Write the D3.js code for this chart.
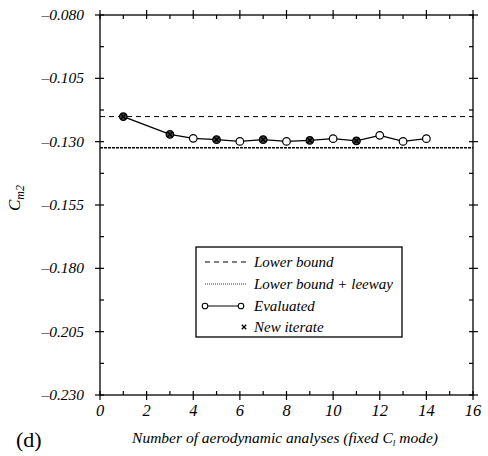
<!DOCTYPE html>
<html>
<head>
<meta charset="utf-8">
<script src="https://cdn.jsdelivr.net/npm/d3@7"></script>
<style>
  body { margin: 0; background: #fff; }
</style>
</head>
<body>
<svg id="chart" width="488" height="456"></svg>
<script>
// data
const analyses = [1, 3, 4, 5, 6, 7, 8, 9, 10, 11, 12, 13, 14];
const cm2 = [-0.1201, -0.1271, -0.1287, -0.1292, -0.1299, -0.1292, -0.1299, -0.1295, -0.1288, -0.1297, -0.1275, -0.1299, -0.1288];
const newIterate = [1, 3, 5, 7, 9, 11];
const lowerBound = -0.1201;
const lowerLeeway = -0.1324;
const yTicks = [-0.080, -0.105, -0.130, -0.155, -0.180, -0.205, -0.230];
const xTicks = [0, 2, 4, 6, 8, 10, 12, 14, 16];
const legendLabels = ['Lower bound', 'Lower bound + leeway', 'Evaluated', 'New iterate'];

const FONT = 'Liberation Serif';
let margin = {top: 15, right: 15, bottom: 61, left: 100};
let width = 488, height = 456;

let svg = d3.select('#chart');
let sx = d3.scaleLinear().domain([0, 16]).range([margin.left, width - margin.right]);
let sy = d3.scaleLinear().domain([-0.230, -0.080]).range([height - margin.bottom, margin.top]);

let x0 = sx.range()[0], x1 = sx.range()[1];
let y0 = sy.range()[0], y1 = sy.range()[1];

// frame
svg.append('rect')
  .attr('x', x0).attr('y', y1)
  .attr('width', x1 - x0).attr('height', y0 - y1)
  .attr('fill', 'none').attr('stroke', '#000').attr('stroke-width', 1.3);

let minorY = d3.range(-0.230, -0.0799, 0.0125);
let minorX = d3.range(0, 16.01, 1);

let ticks = svg.append('g').attr('stroke', '#000').attr('stroke-width', 1.2);
// y ticks, left and right
minorY.forEach((v, i) => {
  let major = i % 2 === 0;
  let y = sy(v);
  ticks.append('line').attr('x1', x0 - (major ? 5 : 0)).attr('x2', x0 + 4).attr('y1', y).attr('y2', y);
  ticks.append('line').attr('x1', x1 - 4).attr('x2', x1 + (major ? 5 : 0)).attr('y1', y).attr('y2', y);
});
// x ticks, bottom and top
minorX.forEach((v, i) => {
  let major = i % 2 === 0;
  let x = sx(v);
  ticks.append('line').attr('x1', x).attr('x2', x).attr('y1', y0 - 4).attr('y2', y0 + (major ? 5 : 0));
  ticks.append('line').attr('x1', x).attr('x2', x).attr('y1', y1 + 4).attr('y2', y1 - (major ? 5 : 0));
});

// tick labels
svg.append('g').selectAll('text').data(yTicks).join('text')
  .attr('font-family', FONT)
  .attr('x', x0 - 16).attr('y', d => sy(d) + 5)
  .attr('text-anchor', 'end')
  .attr('font-size', 15.5).attr('font-style', 'italic')
  .text(d => '\u2013' + Math.abs(d).toFixed(3));

svg.append('g').selectAll('text').data(xTicks).join('text')
  .attr('font-family', FONT)
  .attr('x', d => sx(d)).attr('y', y0 + 21)
  .attr('text-anchor', 'middle')
  .attr('font-size', 16.5).attr('font-style', 'italic')
  .text(d => d);

// axis titles
let yl = svg.append('text')
  .attr('font-family', FONT)
  .attr('transform', `translate(20,198) rotate(-90)`)
  .attr('text-anchor', 'middle')
  .attr('font-size', 17).attr('font-style', 'italic');
yl.append('tspan').text('C');
yl.append('tspan').attr('font-size', 12).attr('dy', 4).text('m2');

let xl = svg.append('text')
  .attr('font-family', FONT)
  .attr('x', 285).attr('y', 443)
  .attr('text-anchor', 'middle')
  .attr('font-size', 15.5).attr('font-style', 'italic');
xl.append('tspan').text('Number of aerodynamic analyses (fixed C');
xl.append('tspan').attr('font-size', 9).attr('dy', 3).text('l');
xl.append('tspan').attr('dy', -3).text(' mode)');

svg.append('text')
  .attr('font-family', FONT)
  .attr('x', 16).attr('y', 447)
  .attr('font-size', 22)
  .text('(d)');

// bound lines
svg.append('line')
  .attr('x1', x0).attr('x2', x1)
  .attr('y1', sy(lowerBound)).attr('y2', sy(lowerBound))
  .attr('stroke', '#000').attr('stroke-width', 1).attr('stroke-dasharray', '5,4');
svg.append('line')
  .attr('x1', x0).attr('x2', x1)
  .attr('y1', sy(lowerLeeway)).attr('y2', sy(lowerLeeway))
  .attr('stroke', '#000').attr('stroke-width', 1.6).attr('stroke-dasharray', '3,1');

// evaluated series
let pts = analyses.map((a, i) => [a, cm2[i]]);
svg.append('path')
  .attr('d', d3.line().x(p => sx(p[0])).y(p => sy(p[1]))(pts))
  .attr('fill', 'none').attr('stroke', '#000').attr('stroke-width', 1.3);

svg.append('g').selectAll('circle').data(pts).join('circle')
  .attr('cx', p => sx(p[0])).attr('cy', p => sy(p[1]))
  .attr('r', 3.8)
  .attr('fill', p => newIterate.includes(p[0]) ? '#444' : '#fff')
  .attr('stroke', '#000').attr('stroke-width', 1.2);

// new iterate crosses
let cross = svg.append('g').attr('stroke', '#000').attr('stroke-width', 1.4);
pts.filter(p => newIterate.includes(p[0])).forEach(p => {
  let cx = sx(p[0]), cy = sy(p[1]), s = 2.6;
  cross.append('line').attr('x1', cx - s).attr('x2', cx + s).attr('y1', cy - s).attr('y2', cy + s);
  cross.append('line').attr('x1', cx - s).attr('x2', cx + s).attr('y1', cy + s).attr('y2', cy - s);
});

// legend
let lg = svg.append('g');
lg.append('rect')
  .attr('x', 196).attr('y', 247).attr('width', 206).attr('height', 90)
  .attr('fill', '#fff').attr('stroke', '#000').attr('stroke-width', 1.3);
let rowY = [262, 284, 306, 327];
lg.selectAll('text').data(legendLabels).join('text')
  .attr('font-family', FONT)
  .attr('x', 254).attr('y', (d, i) => rowY[i] + 5)
  .attr('font-size', 15).attr('font-style', 'italic')
  .text(d => d);
lg.append('line').attr('x1', 205).attr('x2', 247).attr('y1', rowY[0]).attr('y2', rowY[0])
  .attr('stroke', '#000').attr('stroke-dasharray', '5,4');
lg.append('line').attr('x1', 205).attr('x2', 247).attr('y1', rowY[1]).attr('y2', rowY[1])
  .attr('stroke', '#000').attr('stroke-width', 0.8).attr('stroke-dasharray', '1,1');
lg.append('line').attr('x1', 205).attr('x2', 241).attr('y1', rowY[2]).attr('y2', rowY[2])
  .attr('stroke', '#000').attr('stroke-width', 1.2);
[205, 241].forEach(cx => {
  lg.append('circle').attr('cx', cx).attr('cy', rowY[2]).attr('r', 2.8)
    .attr('fill', '#fff').attr('stroke', '#000').attr('stroke-width', 1.1);
});
let lx = 244, ly = rowY[3], ls = 2.2;
lg.append('line').attr('x1', lx - ls).attr('x2', lx + ls).attr('y1', ly - ls).attr('y2', ly + ls).attr('stroke', '#000').attr('stroke-width', 1.3);
lg.append('line').attr('x1', lx - ls).attr('x2', lx + ls).attr('y1', ly + ls).attr('y2', ly - ls).attr('stroke', '#000').attr('stroke-width', 1.3);
</script>
</body>
</html>
